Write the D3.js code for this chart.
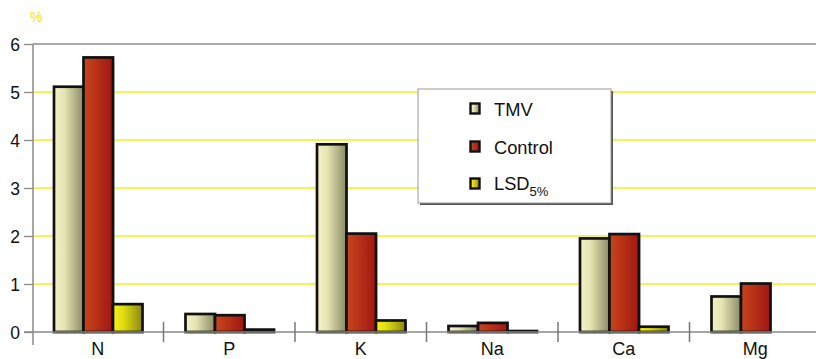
<!DOCTYPE html>
<html><head><meta charset="utf-8">
<script src="https://cdn.jsdelivr.net/npm/d3@7"></script>
<style>body{margin:0;background:#fff;}svg{display:block;font-family:"Liberation Sans",Arial,sans-serif;}</style>
</head><body>
<svg id="c" width="816" height="359"></svg>
<script>
const categories = ["N","P","K","Na","Ca","Mg"];
const seriesNames = ["TMV","Control","LSD"];
const tmv     = [5.11, 0.375, 3.91, 0.125, 1.95, 0.74];
const control = [5.72, 0.35, 2.05, 0.19, 2.04, 1.01];
const lsd     = [0.58, 0.05, 0.24, 0.02, 0.11, null];
const yTicks  = [0,1,2,3,4,5,6];

const svg = d3.select("#c");
const x = d3.scaleBand().domain(categories).range([32, 821]).paddingInner(0).paddingOuter(0);
const xs = d3.scaleBand().domain(seriesNames).range([22, 110.5]).padding(0);
const y = d3.scaleLinear().domain([0,6]).range([332,44]);

const defs = svg.append("defs");
const grads = {
  TMV: ["#f5f3c6", "#e6e4b2", "#8a8b66"],
  Control: ["#c8451f", "#bb3518", "#a01612"],
  LSD: ["#f7f21a", "#e0dc10", "#8a8712"]
};
Object.entries(grads).forEach(([k,c]) => {
  const g = defs.append("linearGradient").attr("id","g"+k).attr("x1","0").attr("x2","1").attr("y1","0").attr("y2","0");
  g.append("stop").attr("offset","0").attr("stop-color",c[0]);
  g.append("stop").attr("offset","0.35").attr("stop-color",c[1]);
  g.append("stop").attr("offset","1").attr("stop-color",c[2]);
});

// gridlines
svg.append("g").selectAll("line").data(yTicks.filter(d=>d>0 && d<6)).join("line")
  .attr("x1",33).attr("x2",816).attr("y1",d=>y(d)).attr("y2",d=>y(d))
  .attr("stroke","#f5ef1a").attr("stroke-width",1.3);
// top line
svg.append("line").attr("x1",33).attr("x2",816).attr("y1",y(6)).attr("y2",y(6)).attr("stroke","#8c8c8c").attr("stroke-width",1.5);

// left axis
const yAxis = d3.axisLeft(y).tickValues(yTicks).tickFormat(d3.format("d")).tickSize(9).tickPadding(4);
const ga = svg.append("g").attr("transform","translate(33,0)").call(yAxis);
ga.select(".domain").remove();
ga.selectAll(".tick line").attr("stroke","#888").attr("stroke-width",1.3);
ga.selectAll(".tick text").attr("font-size",17.5).attr("fill","#111").attr("font-family","Liberation Sans, Arial, sans-serif").attr("dy","0.36em");
svg.append("line").attr("x1",33).attr("x2",33).attr("y1",44).attr("y2",345).attr("stroke","#888").attr("stroke-width",1.5);

// bars
const data = [];
categories.forEach((c,i) => {
  [[ "TMV", tmv[i]], ["Control", control[i]], ["LSD", lsd[i]]].forEach(([s,v]) => {
    if (v !== null && v !== undefined) data.push({c, s, v});
  });
});
const bars = svg.append("g");
bars.selectAll("rect.sh").data(data).join("rect").attr("class","sh")
  .attr("x", d => x(d.c)+xs(d.s)+1.5).attr("y", d => y(d.v)+1.5)
  .attr("width", xs.bandwidth()).attr("height", d => y(0)-y(d.v))
  .attr("fill","#aaa").attr("opacity",0.5);
bars.selectAll("rect.b").data(data).join("rect").attr("class","b")
  .attr("x", d => x(d.c)+xs(d.s)).attr("y", d => y(d.v))
  .attr("width", xs.bandwidth()).attr("height", d => y(0)-y(d.v))
  .attr("fill", d => `url(#g${d.s})`).attr("stroke","#111").attr("stroke-width",2.7);

// baseline
svg.append("line").attr("x1",24).attr("x2",816).attr("y1",y(0)).attr("y2",y(0)).attr("stroke","#888").attr("stroke-width",1.5);
// category separators
svg.append("g").selectAll("line").data(categories.slice(1)).join("line")
  .attr("x1",d=>x(d)).attr("x2",d=>x(d)).attr("y1",322).attr("y2",342)
  .attr("stroke","#777").attr("stroke-width",1.5);
// category labels
svg.append("g").selectAll("text").data(categories).join("text")
  .attr("x", d => x(d)+x.bandwidth()/2).attr("y",355).attr("text-anchor","middle")
  .attr("font-size",18).attr("fill","#111").text(d=>d);

// % label
svg.append("text").attr("x",30).attr("y",22).attr("font-size",14).attr("fill","#f2e600").text("%");

// legend
const lg = svg.append("g");
lg.append("rect").attr("x",420).attr("y",91).attr("width",193).attr("height",114).attr("fill","#555");
lg.append("rect").attr("x",418).attr("y",89).attr("width",193).attr("height",114).attr("fill","#fff").attr("stroke","#999").attr("stroke-width",1);
const swatchY = [108.5, 146.5, 183.5];
const textY = [116, 154, 190];
seriesNames.forEach((s,i) => {
  lg.append("rect").attr("x",470.5).attr("y",swatchY[i]-5).attr("width",9).attr("height",10)
    .attr("fill",`url(#g${s})`).attr("stroke","#111").attr("stroke-width",2.4);
});
lg.append("text").attr("x",494).attr("y",textY[0]).attr("font-size",18.3).attr("fill","#111").text("TMV");
lg.append("text").attr("x",494).attr("y",textY[1]).attr("font-size",18.3).attr("fill","#111").text("Control");
const lt = lg.append("text").attr("x",494).attr("y",textY[2]).attr("font-size",18.3).attr("fill","#111");
lt.append("tspan").text("LSD");
lt.append("tspan").attr("font-size",13).attr("dy",6).text("5%");
</script>
</body></html>
